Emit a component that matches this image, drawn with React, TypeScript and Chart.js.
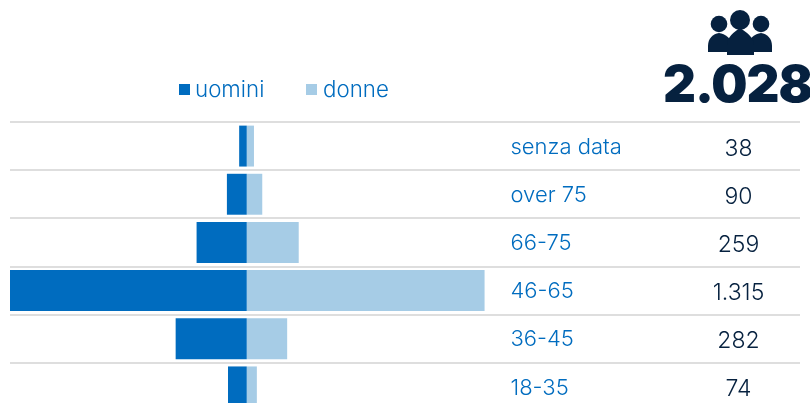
import React, { useEffect, useRef } from "react";
import { Chart, registerables } from "chart.js";

Chart.register(...registerables);

const categories = ["senza data", "over 75", "66-75", "46-65", "36-45", "18-35"];
const totals = ["38", "90", "259", "1.315", "282", "74"];
const men = [21, 55, 139, 656, 197, 52];
const women = [20, 43, 144, 659, 112, 28];
const legendItems = ["uomini", "donne"];
const grandTotal = "2.028";

const BLUE = "#006cbf";
const LIGHT = "#a6cce6";
const NAVY = "#06213f";
const FONT = "Inter, 'Noto Sans', sans-serif";

const rowText = {
  id: "rowText",
  afterDatasetsDraw(chart: any) {
    const { ctx, scales } = chart;
    ctx.save();
    ctx.textBaseline = "middle";
    categories.forEach((c, i) => {
      const y = scales.y.getPixelForValue(i) + 1;
      ctx.font = `300 22px ${FONT}`;
      ctx.fillStyle = BLUE;
      ctx.textAlign = "left";
      ctx.fillText(c, 510.5, y);
      ctx.font = `300 23px ${FONT}`;
      ctx.fillStyle = NAVY;
      ctx.textAlign = "center";
      ctx.fillText(totals[i], 738.5, y + 1.5);
    });
    ctx.restore();
  },
};

export default function App() {
  const ref = useRef<HTMLCanvasElement>(null);
  useEffect(() => {
    const chart = new Chart(ref.current!, {
      type: "bar",
      data: {
        labels: categories,
        datasets: [
          { label: legendItems[0], data: men.map((v) => -v), backgroundColor: BLUE, stack: "s" },
          { label: legendItems[1], data: women, backgroundColor: LIGHT, stack: "s" },
        ],
      },
      options: {
        indexAxis: "y",
        animation: false,
        responsive: false,
        maintainAspectRatio: false,
        layout: { padding: { top: 122, left: 10, right: 10, bottom: 0 } },
        plugins: { legend: { display: false }, tooltip: { enabled: false } },
        datasets: { bar: { categoryPercentage: 1, barPercentage: 0.85 } },
        scales: {
          x: { type: "linear", stacked: true, min: -656, max: 1533, display: false },
          y: {
            stacked: true,
            border: { display: false },
            ticks: { display: false },
            afterFit: (s: any) => { s.width = 0; },
            grid: { color: "#dedede", lineWidth: 2, drawTicks: false, offset: true },
          },
        },
      },
      plugins: [rowText],
    } as any);
    return () => chart.destroy();
  }, []);

  const legendStyle = (left: number): React.CSSProperties => ({
    position: "absolute", left, top: 76, font: `300 22.3px ${FONT}`, color: BLUE, lineHeight: "26px",
  });
  const swatch = (left: number, color: string): React.CSSProperties => ({
    position: "absolute", left, top: 84, width: 11, height: 11, background: color,
  });

  return (
    <div style={{ position: "fixed", left: 0, top: 0, width: 810, height: 403, overflow: "hidden", background: "#fff" }}>
      <canvas ref={ref} width={810} height={411} style={{ position: "absolute", left: 0, top: 0 }} />
      <div style={swatch(179, BLUE)} />
      <div style={legendStyle(195)}>{legendItems[0]}</div>
      <div style={swatch(306, LIGHT)} />
      <div style={legendStyle(323)}>{legendItems[1]}</div>
      <svg width={70} height={50} viewBox="0 0 70 50" style={{ position: "absolute", left: 705, top: 8 }}>
        <g fill={NAVY}>
          <circle cx={14} cy={16} r={8.3} />
          <circle cx={56} cy={16} r={8.3} />
          <path d="M3 44 V38 C3 30 8 26 14 25 C20 26 27 30 27 38 V44 Z" />
          <path d="M67 44 V38 C67 30 62 26 56 25 C50 26 43 30 43 38 V44 Z" />
          <circle cx={35} cy={12} r={10} />
          <path d="M22 47 V37 C22 29 29 24 35 20 C41 24 49 29 49 37 V47 Z" />
        </g>
      </svg>
      <div style={{ position: "absolute", left: 663, top: 54, font: `900 51px ${FONT}`, letterSpacing: "-1px", color: NAVY, lineHeight: "60px", whiteSpace: "nowrap" }}>{grandTotal}</div>
    </div>
  );
}
